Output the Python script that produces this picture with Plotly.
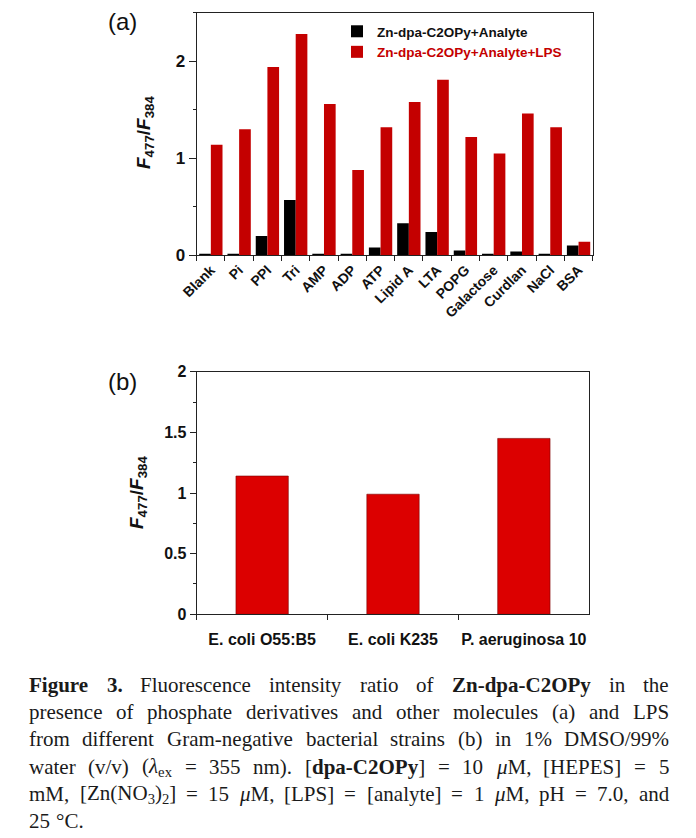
import re
import plotly.graph_objects as go

# ---------------- data ----------------
analytes = ["Blank", "Pi", "PPI", "Tri", "AMP", "ADP", "ATP", "Lipid A", "LTA",
            "POPG", "Galactose", "Curdlan", "NaCl", "BSA"]
ratio_analyte = [0.01, 0.01, 0.20, 0.57, 0.01, 0.01, 0.08, 0.33, 0.24,
                 0.05, 0.01, 0.04, 0.01, 0.10]
ratio_analyte_lps = [1.14, 1.30, 1.94, 2.28, 1.56, 0.88, 1.32, 1.58, 1.81,
                     1.22, 1.05, 1.46, 1.32, 0.14]

strains = ["E. coli O55:B5", "E. coli K235", "P. aeruginosa 10"]
ratio_strains = [1.14, 0.99, 1.45]

name_a1 = "Zn-dpa-C2OPy+Analyte"
name_a2 = "Zn-dpa-C2OPy+Analyte+LPS"

caption_lines = [
    "<b>Figure</b> <b>3.</b> Fluorescence intensity ratio of <b>Zn-dpa-C2OPy</b> in the",
    "presence of phosphate derivatives and other molecules (a) and LPS",
    "from different Gram-negative bacterial strains (b) in 1% DMSO/99%",
    "water (v/v) (<i>λ</i><sub>ex</sub> = 355 nm). [<b>dpa-C2OPy</b>] = 10 <i>μ</i>M, [HEPES] = 5",
    "mM, [Zn(NO<sub>3</sub>)<sub>2</sub>] = 15 <i>μ</i>M, [LPS] = [analyte] = 1 <i>μ</i>M, pH = 7.0, and",
    "25 °C.",
]

# ---------------- geometry helpers ----------------
# the page body has an 8px margin, so the figure is drawn 8px in from the window corner
OFF = 8
WIN_W, WIN_H = 696, 838
W, H = WIN_W - OFF, WIN_H - OFF
def px(x):
    return (x - OFF) / W
def py(y):
    return 1 - (y - OFF) / H

RED_A = "#c40000"
RED_B = "#dc0000"
SANS = "Liberation Sans, Arial, sans-serif"
SERIF = "Liberation Serif, Times New Roman, serif"

# Times / Liberation Serif advance widths (per 1000 em) used to justify caption lines
_REG = {' ': 250, '%': 833, '(': 333, ')': 333, ',': 250, '-': 333, '.': 250, '/': 278,
        ':': 278, '=': 564, '[': 333, ']': 333, '°': 400, 'λ': 440, 'μ': 500,
        'A': 722, 'B': 667, 'C': 667, 'D': 722, 'E': 611, 'F': 556, 'G': 722, 'H': 722,
        'I': 333, 'J': 389, 'K': 722, 'L': 611, 'M': 889, 'N': 722, 'O': 722, 'P': 556,
        'Q': 722, 'R': 667, 'S': 556, 'T': 611, 'U': 722, 'V': 722, 'W': 944, 'X': 722,
        'Y': 722, 'Z': 611, 'a': 444, 'b': 500, 'c': 444, 'd': 500, 'e': 444, 'f': 333,
        'g': 500, 'h': 500, 'i': 278, 'j': 278, 'k': 500, 'l': 278, 'm': 778, 'n': 500,
        'o': 500, 'p': 500, 'q': 500, 'r': 333, 's': 389, 't': 278, 'u': 500, 'v': 500,
        'w': 722, 'x': 500, 'y': 500, 'z': 444}
_BOLD = {'C': 722, 'F': 611, 'O': 778, 'P': 611, 'Z': 667, 'a': 500, 'd': 556, 'e': 444,
         'g': 500, 'i': 278, 'n': 556, 'p': 556, 'r': 444, 'u': 556, 'y': 500, '-': 333,
         '.': 250}

def word_width(markup, size):
    bold = False
    sub = False
    w = 0.0
    for tok in re.split(r'(<[^>]+>)', markup):
        if tok.startswith('<'):
            t = tok.strip('<>/').lower()
            closing = tok.startswith('</')
            if t == 'b':
                bold = not closing
            elif t == 'sub':
                sub = not closing
            continue
        for ch in tok:
            if ch.isdigit():
                cw = 500
            elif bold:
                cw = _BOLD.get(ch, _REG.get(ch, 500))
            else:
                cw = _REG.get(ch, 500)
            w += cw / 1000 * size * (0.7 if sub else 1.0)
    return w

fig = go.Figure()

fig.add_trace(go.Bar(x=analytes, y=ratio_analyte, name="<b>" + name_a1 + "</b>",
                     marker=dict(color="#000000", line=dict(width=0)),
                     xaxis="x", yaxis="y"))
fig.add_trace(go.Bar(x=analytes, y=ratio_analyte_lps,
                     name="<b><span style='color:%s'>%s</span></b>" % (RED_A, name_a2),
                     marker=dict(color=RED_A, line=dict(width=0)),
                     xaxis="x", yaxis="y"))
fig.add_trace(go.Bar(x=strains, y=ratio_strains, showlegend=False,
                     marker=dict(color=RED_B, line=dict(color="#7a0000", width=0.6)),
                     width=0.4, xaxis="x2", yaxis="y2"))

axis_line = dict(showline=True, linecolor="#222222", linewidth=1.2, mirror=True,
                 showgrid=False, zeroline=False, automargin=False)

fig.update_layout(
    width=W, height=H,
    margin=dict(l=0, r=0, t=0, b=0, autoexpand=False),
    paper_bgcolor="white", plot_bgcolor="white",
    barmode="group", bargap=0.175, bargroupgap=0,
    font=dict(family=SANS, color="#111111"),
    showlegend=True,
    legend=dict(x=px(337), y=py(16), xanchor="left", yanchor="top",
                bgcolor="rgba(0,0,0,0)", font=dict(size=13.5, family=SANS, color="#111111"),
                tracegroupgap=0, itemwidth=30),
    xaxis=dict(domain=[px(196.7), px(592.7)], anchor="y", type="category",
               tickson="boundaries", ticks="outside", ticklen=5, tickcolor="#222222",
               tickangle=-45, tickfont=dict(size=14, family=SANS, weight="bold"),
               **axis_line),
    yaxis=dict(domain=[py(255.3), py(12.7)], anchor="x", range=[0, 2.5],
               tickvals=[0, 1, 2], ticktext=["<b>0</b>", "<b>1</b>", "<b>2</b>"],
               ticks="outside", ticklen=7, tickcolor="#222222",
               tickfont=dict(size=17, family=SANS),
               minor=dict(dtick=0.5, tick0=0, ticks="outside", ticklen=3, tickcolor="#222222"),
               **axis_line),
    xaxis2=dict(domain=[px(196.7), px(589.3)], anchor="y2", type="category",
                tickson="boundaries", ticks="outside", ticklen=5, tickcolor="#222222",
                tickangle=0, tickfont=dict(size=16, family=SANS, weight="bold"),
                ticklabelstandoff=10,
                **axis_line),
    yaxis2=dict(domain=[py(614.3), py(371.7)], anchor="x2", range=[0, 2],
                tickvals=[0, 0.5, 1, 1.5, 2],
                ticktext=["<b>0</b>", "<b>0.5</b>", "<b>1</b>", "<b>1.5</b>", "<b>2</b>"],
                ticks="outside", ticklen=6, tickcolor="#222222",
                tickfont=dict(size=16, family=SANS),
                minor=dict(dtick=0.25, tick0=0, ticks="outside", ticklen=3, tickcolor="#222222"),
                **axis_line),
)

ytitle = "<b><i>F</i><sub>477</sub>/<i>F</i><sub>384</sub></b>"
annotations = [
    dict(text="(a)", x=px(106), y=py(21), xanchor="left", yanchor="middle",
         font=dict(size=24, family=SANS, color="#111111")),
    dict(text="(b)", x=px(106), y=py(382), xanchor="left", yanchor="middle",
         font=dict(size=24, family=SANS, color="#111111")),
    dict(text=ytitle, x=px(145), y=py(133), xanchor="center", yanchor="middle",
         textangle=-90, font=dict(size=19, family=SANS, color="#111111")),
    dict(text=ytitle, x=px(138), y=py(493), xanchor="center", yanchor="middle",
         textangle=-90, font=dict(size=19, family=SANS, color="#111111")),
]

# caption, justified between x=28 and x=668 (last line left aligned)
CAP_SIZE = 21
CAP_LEFT, CAP_RIGHT = 28, 668
line_y = [685, 712.2, 739.4, 766.6, 793.8, 821]
for i, (t, yy) in enumerate(zip(caption_lines, line_y)):
    words = t.split(" ")
    widths = [word_width(w, CAP_SIZE) for w in words]
    if i == len(caption_lines) - 1 or len(words) == 1:
        gap = 0.3 * CAP_SIZE
    else:
        gap = (CAP_RIGHT - CAP_LEFT - sum(widths)) / (len(words) - 1)
    xcur = CAP_LEFT
    for w, ww in zip(words, widths):
        annotations.append(dict(text=w, x=px(xcur), y=py(yy), xanchor="left",
                                yanchor="middle", align="left", borderpad=0,
                                font=dict(size=CAP_SIZE, family=SERIF, color="#1a1a1a")))
        xcur += ww + gap

for a in annotations:
    a.update(xref="paper", yref="paper", showarrow=False)
fig.update_layout(annotations=annotations)

fig.write_html("out.html")
